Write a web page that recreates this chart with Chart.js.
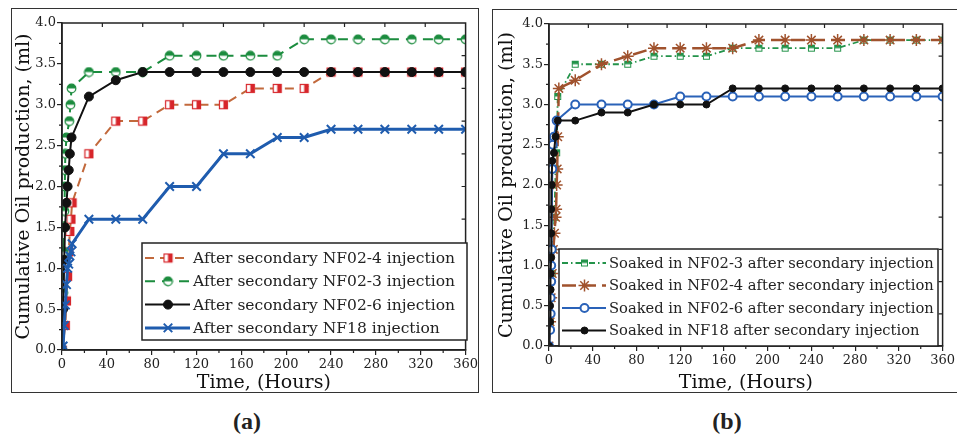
<!DOCTYPE html>
<html>
<head>
<meta charset="utf-8">
<script src="https://cdn.jsdelivr.net/npm/chart.js@4.4.1/dist/chart.umd.min.js"></script>
<style>
  body { margin: 0; width: 957px; height: 439px; overflow: hidden; background: #fff; position: relative; }
  canvas { position: absolute; top: 0; }
  .box { position: absolute; border: 1.5px solid #333; box-sizing: border-box; }
  .tag { position: absolute; top: 408px; width: 60px; text-align: center; font: bold 24px "Liberation Serif", serif; color: #222; }
</style>
</head>
<body>
<div class="box" style="left:11px;top:8px;width:468px;height:385px"></div>
<div class="box" style="left:492px;top:9px;width:480px;height:384px"></div>
<canvas id="chartA" width="480" height="400" style="left:0"></canvas>
<canvas id="chartB" width="477" height="400" style="left:480px"></canvas>
<div class="tag" style="left:217px">(a)</div>
<div class="tag" style="left:697px">(b)</div>

<script>
// ---- panel (a): after secondary injection ----
const a_nf024_t = [0, 3, 4, 5, 6, 7, 8, 9, 24, 48, 72, 96, 120, 144, 168, 192, 216, 240, 264, 288, 312, 336, 360];
const a_nf024_v = [0, 0.3, 0.6, 0.9, 1.2, 1.45, 1.6, 1.8, 2.4, 2.8, 2.8, 3.0, 3.0, 3.0, 3.2, 3.2, 3.2, 3.4, 3.4, 3.4, 3.4, 3.4, 3.4];

const a_nf023_t = [0, 1, 1.5, 2, 2.2, 2.5, 2.7, 3, 4, 6.5, 7.5, 8.5, 24, 48, 72, 96, 120, 144, 168, 192, 216, 240, 264, 288, 312, 336, 360];
const a_nf023_v = [0, 0.7, 1.2, 1.5, 1.7, 2.0, 2.2, 2.4, 2.6, 2.8, 3.0, 3.2, 3.4, 3.4, 3.4, 3.6, 3.6, 3.6, 3.6, 3.6, 3.8, 3.8, 3.8, 3.8, 3.8, 3.8, 3.8];

const a_nf026_t = [0, 1, 2, 2.7, 4, 5, 6, 7, 8.5, 24, 48, 72, 96, 120, 144, 168, 192, 216, 240, 264, 288, 312, 336, 360];
const a_nf026_v = [0, 0.5, 1.1, 1.5, 1.8, 2.0, 2.2, 2.4, 2.6, 3.1, 3.3, 3.4, 3.4, 3.4, 3.4, 3.4, 3.4, 3.4, 3.4, 3.4, 3.4, 3.4, 3.4, 3.4];

const a_nf18_t = [0, 1, 2, 3, 4, 5, 6, 7, 8, 9, 24, 48, 72, 96, 120, 144, 168, 192, 216, 240, 264, 288, 312, 336, 360];
const a_nf18_v = [0, 0.05, 0.3, 0.55, 0.8, 1.0, 1.05, 1.15, 1.2, 1.3, 1.6, 1.6, 1.6, 2.0, 2.0, 2.4, 2.4, 2.6, 2.6, 2.7, 2.7, 2.7, 2.7, 2.7, 2.7];

const labelsA = [
  'After secondary NF02-4 injection',
  'After secondary NF02-3 injection',
  'After secondary NF02-6 injection',
  'After secondary NF18 injection'
];

// ---- panel (b): soaked after secondary injection ----
const b_nf023_t = [0, 1, 2, 3, 3.5, 5, 6, 7, 8, 24, 48, 72, 96, 120, 144, 168, 192, 216, 240, 264, 288, 312, 336, 360];
const b_nf023_v = [0, 0.3, 0.6, 0.9, 1.2, 1.6, 2.2, 2.4, 3.1, 3.5, 3.5, 3.5, 3.6, 3.6, 3.6, 3.7, 3.7, 3.7, 3.7, 3.7, 3.8, 3.8, 3.8, 3.8];

const b_nf024_t = [0, 1, 2, 3, 4, 5, 6, 6.5, 7, 7.5, 8, 9, 24, 48, 72, 96, 120, 144, 168, 192, 216, 240, 264, 288, 312, 336, 360];
const b_nf024_v = [0, 0.3, 0.6, 0.9, 1.2, 1.4, 1.6, 1.7, 2.0, 2.2, 2.6, 3.2, 3.3, 3.5, 3.6, 3.7, 3.7, 3.7, 3.7, 3.8, 3.8, 3.8, 3.8, 3.8, 3.8, 3.8, 3.8];

const b_nf026_t = [0, 1, 1.5, 1.5, 2, 2, 2.5, 3, 3.5, 4.5, 7, 24, 48, 72, 96, 120, 144, 168, 192, 216, 240, 264, 288, 312, 336, 360];
const b_nf026_v = [0, 0.2, 0.4, 0.6, 0.8, 1.0, 1.2, 2.2, 2.5, 2.6, 2.8, 3.0, 3.0, 3.0, 3.0, 3.1, 3.1, 3.1, 3.1, 3.1, 3.1, 3.1, 3.1, 3.1, 3.1, 3.1];

const b_nf18_t = [0, 1, 1, 1.5, 1.5, 2, 2, 2, 2.5, 3, 4.5, 6, 8, 24, 48, 72, 96, 120, 144, 168, 192, 216, 240, 264, 288, 312, 336, 360];
const b_nf18_v = [0, 0.3, 0.5, 0.7, 0.9, 1.1, 1.4, 1.7, 2.0, 2.3, 2.4, 2.6, 2.8, 2.8, 2.9, 2.9, 3.0, 3.0, 3.0, 3.2, 3.2, 3.2, 3.2, 3.2, 3.2, 3.2, 3.2, 3.2];

const labelsB = [
  'Soaked in NF02-3 after secondary injection',
  'Soaked in NF02-4 after secondary injection',
  'Soaked in NF02-6 after secondary injection',
  'Soaked in NF18 after secondary injection'
];

const xTitle = 'Time, (Hours)';
const yTitle = 'Cumulative Oil production, (ml)';

const SERIF = '"DejaVu Serif", serif';

const pts = (t, v) => t.map((x, i) => ({ x: x, y: v[i] }));

// small canvases used as point markers
const makeMarker = (size, draw) => {
  const c = document.createElement('canvas');
  c.width = size; c.height = size;
  draw(c.getContext('2d'), size / 2);
  return c;
};

// square, left half open, right half filled
const halfSquareRed = makeMarker(11, (g, m) => {
  g.fillStyle = '#fff'; g.fillRect(1, 1, 9, 9);
  g.fillStyle = '#d7262b'; g.fillRect(5.5, 1, 4.5, 9);
  g.strokeStyle = '#d7262b'; g.lineWidth = 1.2; g.strokeRect(1.5, 1.5, 8, 8);
});

// circle, top half filled
const halfCircleGreen = makeMarker(11, (g, m) => {
  g.fillStyle = '#fff'; g.beginPath(); g.arc(m, m, 4.3, 0, Math.PI * 2); g.fill();
  g.fillStyle = '#1b8c3e'; g.beginPath(); g.arc(m, m, 4.3, Math.PI, 0); g.fill();
  g.strokeStyle = '#1b8c3e'; g.lineWidth = 1.2; g.beginPath(); g.arc(m, m, 4.3, 0, Math.PI * 2); g.stroke();
});

// square, top half filled
const halfSquareGreen = makeMarker(9, (g, m) => {
  g.fillStyle = '#fff'; g.fillRect(1, 1, 7, 7);
  g.fillStyle = '#23934a'; g.fillRect(1, 1, 7, 3.5);
  g.strokeStyle = '#23934a'; g.lineWidth = 1; g.strokeRect(1.5, 1.5, 6, 6);
});

// order: higher number is drawn first (underneath)
const datasetsA = [
  { label: labelsA[0], order: 4, data: pts(a_nf024_t, a_nf024_v), borderColor: '#c2693c', borderWidth: 2, borderDash: [9, 6],
    pointStyle: halfSquareRed, pointRadius: 5, backgroundColor: '#d7262b' },
  { label: labelsA[1], order: 3, data: pts(a_nf023_t, a_nf023_v), borderColor: '#1b8c3e', borderWidth: 2, borderDash: [10, 7],
    pointStyle: halfCircleGreen, pointRadius: 5, backgroundColor: '#1b8c3e' },
  { label: labelsA[2], order: 2, data: pts(a_nf026_t, a_nf026_v), borderColor: '#111', borderWidth: 2,
    pointStyle: 'circle', pointRadius: 4.5, pointBorderWidth: 1, backgroundColor: '#111' },
  { label: labelsA[3], order: 1, data: pts(a_nf18_t, a_nf18_v), borderColor: '#1f5cae', borderWidth: 3,
    pointStyle: 'crossRot', pointRadius: 6, pointBorderWidth: 2, backgroundColor: '#1f5cae' }
];

const datasetsB = [
  { label: labelsB[0], order: 4, data: pts(b_nf023_t, b_nf023_v), borderColor: '#23934a', borderWidth: 1.8, borderDash: [6, 3, 1.5, 3],
    pointStyle: halfSquareGreen, pointRadius: 4, backgroundColor: '#23934a' },
  { label: labelsB[1], order: 3, data: pts(b_nf024_t, b_nf024_v), borderColor: '#a0522d', borderWidth: 2.5, borderDash: [14, 6],
    pointStyle: 'star', pointRadius: 6, pointBorderWidth: 1.5, backgroundColor: '#a0522d' },
  { label: labelsB[2], order: 2, data: pts(b_nf026_t, b_nf026_v), borderColor: '#2a62b8', borderWidth: 2,
    pointStyle: 'circle', pointRadius: 4, pointBorderWidth: 2, backgroundColor: '#fff' },
  { label: labelsB[3], order: 1, data: pts(b_nf18_t, b_nf18_v), borderColor: '#111', borderWidth: 2,
    pointStyle: 'circle', pointRadius: 3.5, pointBorderWidth: 1, backgroundColor: '#111' }
];

// plot frame, minor ticks and the inward ticks on the top / right sides
const frameTicks = {
  id: 'frameTicks',
  afterDatasetsDraw(chart, args, o) {
    const { ctx, chartArea: a } = chart;
    const x = chart.scales.x, y = chart.scales.y;
    ctx.save();
    ctx.strokeStyle = '#222';
    ctx.lineWidth = 1.5;
    ctx.strokeRect(a.left, a.top, a.right - a.left, a.bottom - a.top);
    ctx.lineWidth = 1.2;
    ctx.beginPath();
    for (let i = 1; i * o.minorX < x.max; i += 2) {
      const px = x.getPixelForValue(i * o.minorX);
      ctx.moveTo(px, a.bottom); ctx.lineTo(px, a.bottom + 3);
    }
    for (let i = 1; i * o.minorY < y.max; i += 2) {
      const py = y.getPixelForValue(i * o.minorY);
      ctx.moveTo(a.left, py); ctx.lineTo(a.left - 3, py);
    }
    for (let i = 1; i * o.topStep < x.max - 1e-6; i++) {
      const px = x.getPixelForValue(i * o.topStep);
      ctx.moveTo(px, a.top); ctx.lineTo(px, a.top + 4);
    }
    for (let i = 1; i * o.rightStep < y.max - 1e-6; i++) {
      const py = y.getPixelForValue(i * o.rightStep);
      ctx.moveTo(a.right, py); ctx.lineTo(a.right - 4, py);
    }
    ctx.stroke();
    ctx.restore();
  }
};

// boxed legend placed inside the plot
const boxLegend = {
  id: 'boxLegend',
  afterDraw(chart, args, o) {
    const ctx = chart.ctx;
    ctx.save();
    ctx.fillStyle = '#fff';
    ctx.fillRect(o.x, o.y, o.w, o.h);
    ctx.strokeStyle = '#222';
    ctx.lineWidth = 1.5;
    ctx.strokeRect(o.x, o.y, o.w, o.h);
    chart.data.datasets.forEach((ds, i) => {
      const cy = o.y + o.top + o.row * i;
      ctx.strokeStyle = ds.borderColor;
      ctx.lineWidth = ds.borderWidth;
      ctx.setLineDash(ds.borderDash || []);
      ctx.beginPath();
      ctx.moveTo(o.x + 3, cy);
      ctx.lineTo(o.x + o.sample, cy);
      ctx.stroke();
      ctx.setLineDash([]);
      ctx.fillStyle = ds.backgroundColor;
      ctx.lineWidth = ds.pointBorderWidth || 1;
      Chart.helpers.drawPoint(ctx, { pointStyle: ds.pointStyle, radius: ds.pointRadius, borderWidth: ds.pointBorderWidth || 1, rotation: 0 },
        o.x + o.sample / 2 + 2, cy);
      ctx.fillStyle = '#222';
      ctx.font = o.font;
      ctx.textBaseline = 'middle';
      ctx.fillText(ds.label, o.x + o.sample + 3, cy + 1);
    });
    ctx.restore();
  }
};

const buildChart = (id, datasets, lay, legend) => {
  const ctx = document.getElementById(id).getContext('2d');
  return new Chart(ctx, {
    type: 'scatter',
    data: { datasets: datasets.map(d => Object.assign({ showLine: true, fill: false, tension: 0, clip: 0 }, d)) },
    options: {
      responsive: false,
      animation: false,
      layout: { padding: lay.padding },
      scales: {
        x: {
          min: 0, max: 360,
          ticks: { stepSize: 40, padding: 2, color: '#222', font: { family: SERIF, size: 13 } },
          grid: { drawOnChartArea: false, tickLength: 5, color: '#222', lineWidth: 1.2 },
          border: { color: '#222', width: 1.5 },
          title: { display: true, text: xTitle, color: '#111', padding: 0, font: { family: SERIF, size: 19 } },
          afterFit: s => { s.height = lay.xh; }
        },
        y: {
          min: 0, max: 4,
          ticks: { stepSize: 0.5, padding: 1, color: '#222', font: { family: SERIF, size: 13 },
                   callback: v => v.toFixed(1) },
          grid: { drawOnChartArea: false, tickLength: 5, color: '#222', lineWidth: 1.2 },
          border: { color: '#222', width: 1.5 },
          title: { display: true, text: yTitle, color: '#111', padding: 0, font: { family: SERIF, size: 19 } },
          afterFit: s => { s.width = lay.yw; }
        }
      },
      plugins: {
        legend: { display: false },
        tooltip: { enabled: false },
        frameTicks: { minorX: 20, minorY: 0.25, topStep: 36, rightStep: 0.4 },
        boxLegend: legend
      }
    },
    plugins: [frameTicks, boxLegend]
  });
};

buildChart('chartA', datasetsA,
  { padding: { left: 13, top: 23, right: 12, bottom: 6 }, yw: 49, xh: 44 },
  { x: 142, y: 243, w: 325, h: 97, top: 15, row: 23.3, sample: 48, font: '15.5px ' + SERIF });

buildChart('chartB', datasetsB,
  { padding: { left: 16, top: 24, right: 9, bottom: 6 }, yw: 53, xh: 48 },
  { x: 79, y: 249, w: 379, h: 97, top: 14, row: 22.5, sample: 47, font: '14.7px ' + SERIF });
</script>
</body>
</html>
